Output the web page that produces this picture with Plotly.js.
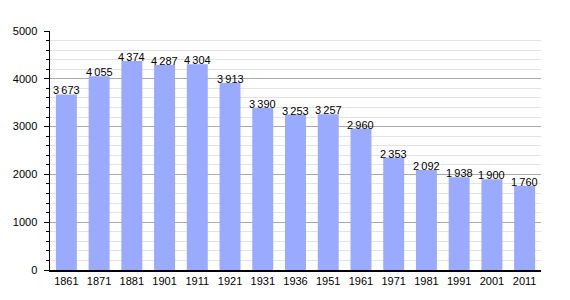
<!DOCTYPE html>
<html><head><meta charset="utf-8">
<script src="https://cdn.plot.ly/plotly-3.0.1.min.js"></script>
<style>html,body{margin:0;padding:0;background:#fff}#c{width:570px;height:300px}</style>
</head><body><div id="c"></div>
<script>
const years = ['1861','1871','1881','1901','1911','1921','1931','1936','1951','1961','1971','1981','1991','2001','2011'];
const population = [3673,4055,4374,4287,4304,3913,3390,3253,3257,2960,2353,2092,1938,1900,1760];
const labels = population.map(v => { const s = String(v); return s.slice(0, s.length-3) + '\u2009' + s.slice(-3); });

const annotations = years.map((yr, i) => ({
  x: i, y: population[i], text: labels[i], showarrow: false,
  xanchor: 'center', yanchor: 'bottom', yshift: -4,
  font: {family: 'Liberation Sans, Arial, sans-serif', size: 11, color: '#000'}
}));

Plotly.newPlot('c', [{
  type: 'bar', x: years, y: population,
  marker: {color: '#99aaff'}, hoverinfo: 'none'
}], {
  width: 570, height: 300,
  margin: {l: 50, r: 29, t: 31, b: 30, pad: 0},
  paper_bgcolor: '#fff', plot_bgcolor: '#fff',
  bargap: 0.36, showlegend: false,
  font: {family: 'Liberation Sans, Arial, sans-serif', size: 11, color: '#000'},
  annotations: annotations,
  xaxis: {type: 'category', range: [-0.5, years.length - 0.5], showline: true, linecolor: '#000', linewidth: 1.5, ticks: '', showgrid: false, tickfont: {size: 11}},
  yaxis: {range: [0, 5000], dtick: 1000, showline: true, linecolor: '#000', linewidth: 1.5,
    ticks: 'outside', ticklen: 5, tickcolor: '#000', gridcolor: '#aaaaaa', gridwidth: 1, zeroline: false,
    tickfont: {size: 11}, ticklabelstandoff: 4,
    minor: {dtick: 200, showgrid: true, gridcolor: '#e3e3e3', ticks: 'outside', ticklen: 3, tickcolor: '#000'}}
}, {staticPlot: true});
</script></body></html>
